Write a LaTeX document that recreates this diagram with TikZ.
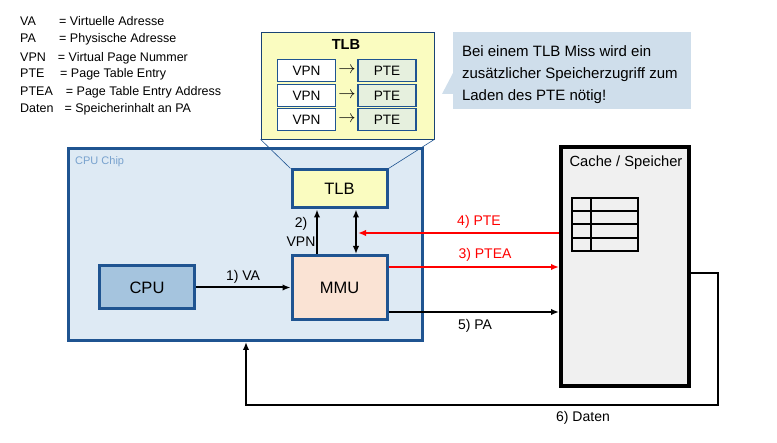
\documentclass[tikz,border=0pt]{standalone}
\usepackage{fontspec}
\setmainfont{Liberation Sans}
\usetikzlibrary{arrows.meta,calc}

\definecolor{chipblue}{RGB}{31,84,145}
\definecolor{chipfill}{RGB}{222,234,244}
\definecolor{chiplabel}{RGB}{120,162,206}
\definecolor{cpufill}{RGB}{165,196,222}
\definecolor{mmufill}{RGB}{250,227,212}
\definecolor{tlbfill}{RGB}{250,252,192}
\definecolor{ptefill}{RGB}{230,240,222}
\definecolor{notefill}{RGB}{207,222,235}
\definecolor{memfill}{RGB}{240,240,240}

\tikzset{
  unit/.style={draw=chipblue, line width=3pt, minimum width=95pt, inner sep=0pt, font=\fontsize{16.5}{19}\selectfont},
  row/.style={draw=chipblue, line width=1.2pt, minimum width=58pt, minimum height=22pt, inner sep=0pt, font=\fontsize{13.6}{16}\selectfont},
  lbl/.style={inner sep=0pt, font=\fontsize{14}{19}\selectfont},
  legend/.style={anchor=base west, inner sep=0pt, font=\fontsize{12.5}{15}\selectfont},
  maps/.style={inner sep=0pt, font=\fontsize{17}{19}\selectfont},
  flow/.style={line width=2pt, -{Latex[length=8pt,width=6.5pt]}},
}

\begin{document}
\begin{tikzpicture}[x=1pt,y=1pt,yscale=-1,xscale=1]
\useasboundingbox (0,0) rectangle (777,443);

% Legend
\node[legend] (abVA) at (20,25.2) {VA};
\node[legend] (deVA) at (59,25.2) {= Virtuelle Adresse};
\node[legend] (abPA) at (20,42.8) {PA};
\node[legend] (dePA) at (59,42.8) {= Physische Adresse};
\node[legend] (abVPN) at (20,61.2) {VPN};
\node[legend] (deVPN) at (57.7,61.2) {= Virtual Page Nummer};
\node[legend] (abPTE) at (20,77.8) {PTE};
\node[legend] (dePTE) at (60,77.8) {= Page Table Entry};
\node[legend] (abPTEA) at (20,95.2) {PTEA};
\node[legend] (dePTEA) at (65.7,95.2) {= Page Table Entry Address};
\node[legend] (abDaten) at (20,112.8) {Daten};
\node[legend] (deDaten) at (64.3,112.8) {= Speicherinhalt an PA};

% TLB zoomed
\node[draw=chipblue!80!black, fill=tlbfill, line width=0.8pt, minimum width=173pt, minimum height=107pt] (tlbzoom) at (347.5,85.5) {};
\node[inner sep=0pt, font=\bfseries\fontsize{14.6}{17}\selectfont] (tlbtitle) at (346,44) {TLB};
\node[row, fill=white] (vpn1) at (306.5,70.5) {VPN};
\node[row, fill=white] (vpn2) at (306.5,95.5) {VPN};
\node[row, fill=white] (vpn3) at (306.5,119.5) {VPN};
\node[row, fill=ptefill] (pte1) at (387,70.5) {PTE};
\node[row, fill=ptefill] (pte2) at (387,95.5) {PTE};
\node[row, fill=ptefill] (pte3) at (387,119.5) {PTE};
\node[maps] (arr1) at (347,70.5) {$\rightarrow$};
\node[maps] (arr2) at (347,95.5) {$\rightarrow$};
\node[maps] (arr3) at (347,119.5) {$\rightarrow$};

% Callout
\fill[notefill] (453,73) -- (442,94) -- (453,94) -- cycle;
\node[fill=notefill, minimum width=238pt, minimum height=77pt, inner sep=0pt] (note) at (572,70.5) {};
\node[anchor=west, align=left, inner sep=0pt, font=\fontsize{15}{22}\selectfont] (notetext) at ($(note.west)+(9,4.5)$) {Bei einem TLB Miss wird ein\\zusätzlicher Speicherzugriff zum\\Laden des PTE nötig!};

% CPU chip
\node[draw=chipblue, fill=chipfill, line width=3pt, minimum width=354pt, minimum height=192pt] (chip) at (245.5,244.5) {};
\node[anchor=west, inner sep=0pt, text=chiplabel, font=\fontsize{11}{13}\selectfont] (chiplbl) at (75,162) {CPU Chip};
\node[unit, fill=tlbfill, minimum height=38pt] (tlb) at (339.5,189) {TLB};
\node[unit, fill=cpufill, minimum height=43pt] (cpu) at (147,287.5) {CPU};
\node[unit, fill=mmufill, minimum height=64pt] (mmu) at (339.5,287.5) {MMU};

% zoom lines
\draw[chipblue, line width=0.6pt] (tlbzoom.south west) -- (tlb.north west);
\draw[chipblue, line width=0.6pt] (tlbzoom.south east) -- (tlb.north east);

% Cache / memory
\node[draw, fill=memfill, line width=4pt, minimum width=128pt, minimum height=239pt] (cache) at (625,266.5) {};
\node[inner sep=0pt, font=\fontsize{14.7}{17}\selectfont] (cachelbl) at (626,163) {Cache / Speicher};
\draw[line width=1.2pt] (572,198) rectangle (638,251);
\foreach \r in {211,224,238}
  \draw[line width=1.2pt] (572,\r) -- (638,\r);
\draw[line width=1.2pt] (591,198) -- (591,251);

% Connectors
\coordinate (ptetip) at (358,233);
\coordinate (pteaY) at (0,267);
\coordinate (paY) at (0,312);
\coordinate (datY) at (718,273);
\coordinate (datX) at (246,405);

\draw[flow] (cpu) -- (mmu);
\node[lbl] (l1) at (243,277) {1) VA};
\draw[flow] ($(mmu.north)+(-22.5,0)$) -- ($(tlb.south)+(-22.5,0)$);
\node[lbl, align=center] (l2) at (301,232) {2)\\VPN};
\draw[line width=2pt, {Latex[length=8pt,width=6.5pt]}-{Latex[length=8pt,width=6.5pt]}] ($(mmu.north)+(16.5,0)$) -- ($(tlb.south)+(16.5,0)$);
\draw[flow, red] (cache.west |- ptetip) -- (ptetip);
\node[lbl, text=red] (l4) at (479,222) {4) PTE};
\draw[flow, red] (mmu.east |- pteaY) -- (cache.west |- pteaY);
\node[lbl, text=red] (l3) at (485,255) {3) PTEA};
\draw[flow] (mmu.east |- paY) -- (cache.west |- paY);
\node[lbl] (l5) at (475,326) {5) PA};
\draw[flow] (cache.east |- datY) -- (datY) |- (datX) -- (datX |- chip.south);
\node[lbl] (l6) at (583,418) {6) Daten};

\end{tikzpicture}
\end{document}
